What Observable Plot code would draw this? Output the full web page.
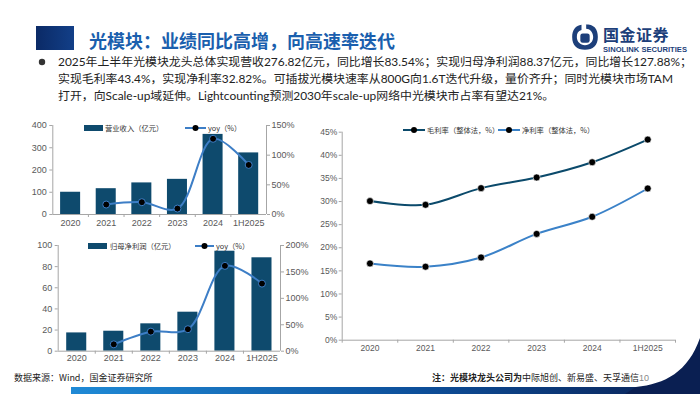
<!DOCTYPE html>
<html><head><meta charset="utf-8">
<script src="https://cdn.jsdelivr.net/npm/d3@7"></script>
<script src="https://cdn.jsdelivr.net/npm/@observablehq/plot@0.6"></script>
<style>
body{margin:0;width:700px;height:394px;overflow:hidden;background:#fff;position:relative;font-family:"Noto Sans CJK SC",sans-serif;}
.abs{position:absolute;}
.abs svg{overflow:visible;display:block;}
.title{left:89px;top:26px;font-size:18px;font-weight:700;color:#1a5fae;white-space:nowrap;line-height:28px;}
.bullet{font-family:"Lato","Noto Sans CJK SC",sans-serif;font-size:11.9px;color:#222;line-height:17px;white-space:nowrap;}
.leg{font-size:7.3px;color:#333;white-space:nowrap;line-height:10px;}
.foot{font-size:9px;color:#222;white-space:nowrap;line-height:12px;}
</style></head><body>
<script>
// ---- data ----
const years = ["2020","2021","2022","2023","2024","1H2025"];
const revenue = [100,116,142,158,360,276.82];           // 营业收入（亿元）
const revenueYoy = [null,16.8,20.7,10,127.6,83.54];     // yoy（%）
const netProfit = [17.3,18.9,25.9,36.9,94.6,88.37];     // 归母净利润（亿元）
const netProfitYoy = [null,13,37,41.6,161.5,127.88];    // yoy（%）
const grossMargin = [30.1,29.3,32.9,35.2,38.5,43.4];    // 毛利率（整体法，%）
const netMargin = [16.6,15.9,17.9,23.0,26.7,32.82];     // 净利率（整体法，%）
const revTicks = [0,100,200,300,400];
const revYoyTicks = [0,50,100,150];
const profitTicks = [0,20,40,60,80,100];
const profitYoyTicks = [0,50,100,150,200];
const marginTicks = [0,5,10,15,20,25,30,35,40,45];

const BAR = "#0e4a6d", YOY = "#3d7ec6", AX = "#a6a6a6", LBL = "#595959";

function place(el, left, top){
  const d = document.createElement("div");
  d.className = "abs"; d.style.left = left+"px"; d.style.top = top+"px";
  d.appendChild(el); document.body.appendChild(d); return d;
}
function html(s, cls, left, top){
  const d = document.createElement("div");
  d.className = "abs " + (cls||""); d.style.left = left+"px"; d.style.top = top+"px";
  d.innerHTML = s; document.body.appendChild(d); return d;
}

function dual({bars, yoy, yMax, yoyMax, yTicks, yoyTicks, width, height, mL, mR, mT, mB, inset, xPad}){
  const k = yMax / yoyMax;
  const rows = years.map((y,i)=>({i, v:bars[i], r: yoy[i]==null?null:yoy[i]*k}));
  const lr = rows.filter(d=>d.r!=null);
  return Plot.plot({
    width, height, marginLeft:mL, marginRight:mR, marginTop:mT, marginBottom:mB,
    x:{type:"linear", domain:[-0.5,5.5]},
    y:{domain:[0,yMax]},
    style:{fontFamily:"Liberation Sans, Arial, sans-serif", fontSize:"9px", color:LBL, background:"transparent"},
    marks:[
      Plot.rectY(rows,{x1:d=>d.i-0.5, x2:d=>d.i+0.5, y:"v", fill:BAR, insetLeft:inset, insetRight:inset}),
      Plot.ruleY([0],{stroke:AX}),
      Plot.ruleX([-0.5,5.5],{stroke:AX}),
      Plot.axisY(yTicks,{anchor:"left", tickSize:3, tickPadding:3, stroke:AX, label:null}),
      Plot.axisY(yoyTicks.map(v=>v*k),{anchor:"right", tickSize:3, tickPadding:2, stroke:AX, label:null, tickFormat:d=>`${Math.round(d/k)}%`}),
      Plot.axisX(d3.range(6),{tickSize:0, tickPadding:xPad, tickFormat:i=>years[i], label:null}),
      Plot.axisX(d3.range(1,6).map(i=>i-0.5),{tickSize:3, tickFormat:()=>"", stroke:AX, label:null}),
      Plot.line(lr,{x:"i", y:"r", stroke:YOY, strokeWidth:2, curve:"catmull-rom"}),
      Plot.dot(lr,{x:"i", y:"r", r:3.5, fill:"#000", stroke:YOY, strokeWidth:1})
    ]
  });
}

// ---- header ----
html('', '', 36, 26).style.cssText += "width:38px;height:24px;background:linear-gradient(90deg,#0b2a66,#123f88);";
html('光模块：业绩同比高增，向高速率迭代','title',89,26);
html('<svg width="28" height="28" viewBox="0 0 24 24"><path d="M12 1 C20 1 23 5 23 12 C23 19 19 23 12 23 C5 23 1 19 1 12 C1 6 4 2 9 1.5 L9 6 C6 7 5 9 5 12 C5 16 8 19 12 19 C16 19 19 16 19 12 C19 8 16 5 13 5 L13 1 Z" fill="#1d3f7a"/><rect x="8" y="9" width="8" height="8" rx="2" fill="#1d3f7a"/></svg>','',571,23);
html('国金证券','',603,24).style.cssText += "font-size:16px;font-weight:700;color:#1d3f7a;letter-spacing:0.5px;white-space:nowrap;line-height:20px;";
html('SINOLINK SECURITIES','',603,45).style.cssText += "font-family:'Liberation Sans',Arial,sans-serif;font-size:7.6px;font-weight:700;color:#1d3f7a;white-space:nowrap;line-height:9px;";

// bullet
html('<svg width="8" height="8"><circle cx="4" cy="4" r="3.2" fill="#333"/></svg>','',38,58);
html('2025年上半年光模块龙头总体实现营收276.82亿元，同比增长83.54%；实现归母净利润88.37亿元，同比增长127.88%；<br>实现毛利率43.4%，实现净利率32.82%。可插拔光模块速率从800G向1.6T迭代升级，量价齐升；同时光模块市场TAM<br>打开，向Scale-up域延伸。Lightcounting预测2030年scale-up网络中光模块市占率有望达21%。','bullet',58,53);

// ---- chart 1 ----
place(dual({bars:revenue, yoy:revenueYoy, yMax:400, yoyMax:150, yTicks:revTicks, yoyTicks:revYoyTicks,
  width:280, height:115, mL:32.3, mR:34, mT:7, mB:19, inset:7.8, xPad:5}), 20, 118);
html('<svg width="19" height="6"><rect width="19" height="6" fill="'+BAR+'"/></svg>','',84,125);
html('营业收入（亿元）','leg',105,123);
html('<svg width="21" height="8"><line x1="0" y1="4" x2="21" y2="4" stroke="'+YOY+'" stroke-width="2"/><circle cx="10.5" cy="4" r="3" fill="#000"/></svg>','',185,124);
html('yoy（%）','leg',208,123);

// ---- chart 2 ----
place(dual({bars:netProfit, yoy:netProfitYoy, yMax:100, yoyMax:200, yTicks:profitTicks, yoyTicks:profitYoyTicks,
  width:290, height:125, mL:37.7, mR:30, mT:7, mB:12.3, inset:8.5, xPad:3.5}), 20, 238);
html('<svg width="19" height="6"><rect width="19" height="6" fill="'+BAR+'"/></svg>','',88,243);
html('归母净利润（亿元）','leg',110,241);
html('<svg width="19" height="8"><line x1="0" y1="4" x2="19" y2="4" stroke="'+YOY+'" stroke-width="2"/><circle cx="9.5" cy="4" r="3" fill="#000"/></svg>','',195,242);
html('yoy（%）','leg',216,241);

// ---- chart 3 ----
{
  const rows = years.map((y,i)=>({i, g:grossMargin[i], n:netMargin[i]}));
  const GM = "#0b4a6b", NM = "#3b82c8";
  const p = Plot.plot({
    width:395, height:240, marginLeft:41.7, marginRight:20, marginTop:13.7, marginBottom:18.3,
    x:{type:"linear", domain:[-0.5,5.5]},
    y:{domain:[0,45]},
    style:{fontFamily:"Liberation Sans, Arial, sans-serif", fontSize:"8.5px", color:LBL, background:"transparent"},
    marks:[
      Plot.ruleY([0],{stroke:AX}),
      Plot.ruleX([-0.5],{stroke:AX}),
      Plot.axisY(marginTicks,{anchor:"left", tickSize:3, tickPadding:2, stroke:AX, label:null, tickFormat:d=>d+"%"}),
      Plot.axisX(d3.range(6),{tickSize:0, tickPadding:5, tickFormat:i=>years[i], label:null}),
      Plot.axisX(d3.range(7).map(i=>i-0.5),{tickSize:3, tickFormat:()=>"", stroke:AX, label:null}),
      Plot.line(rows,{x:"i", y:"g", stroke:GM, strokeWidth:2, curve:"catmull-rom"}),
      Plot.dot(rows,{x:"i", y:"g", r:3.5, fill:"#000", stroke:"#fff", strokeWidth:0.6}),
      Plot.line(rows,{x:"i", y:"n", stroke:NM, strokeWidth:2, curve:"catmull-rom"}),
      Plot.dot(rows,{x:"i", y:"n", r:3.5, fill:"#000", stroke:"#fff", strokeWidth:0.6})
    ]
  });
  place(p, 300, 118);
  html('<svg width="22" height="8"><line x1="0" y1="4" x2="22" y2="4" stroke="'+GM+'" stroke-width="2"/><circle cx="11" cy="4" r="3" fill="#000"/></svg>','',403,126);
  html('毛利率（整体法，%）','leg',427,125);
  html('<svg width="22" height="8"><line x1="0" y1="4" x2="22" y2="4" stroke="'+NM+'" stroke-width="2"/><circle cx="11" cy="4" r="3" fill="#000"/></svg>','',498,126);
  html('净利率（整体法，%）','leg',522,125);
}

// ---- footer ----
html('<svg width="700" height="60"><defs><linearGradient id="fg" x1="0" x2="1"><stop offset="0" stop-color="#1f8ad6"/><stop offset="0.55" stop-color="#0d4f9a"/><stop offset="1" stop-color="#0a1f52"/></linearGradient></defs><rect x="71" y="53" width="629" height="7" fill="url(#fg)"/><path d="M625 60 L636 53 C665 50 688 38 700 4 L700 60 Z" fill="#0a1f52"/></svg>','',0,334);
html('数据来源：Wind，国金证券研究所','foot',14,372);
html('<b>注：光模块龙头公司为</b>中际旭创、新易盛、天孚通信<span style="color:#888;font-size:9px;font-family:Liberation Sans,Arial">10</span>','foot',432,372);
</script>
</body></html>
